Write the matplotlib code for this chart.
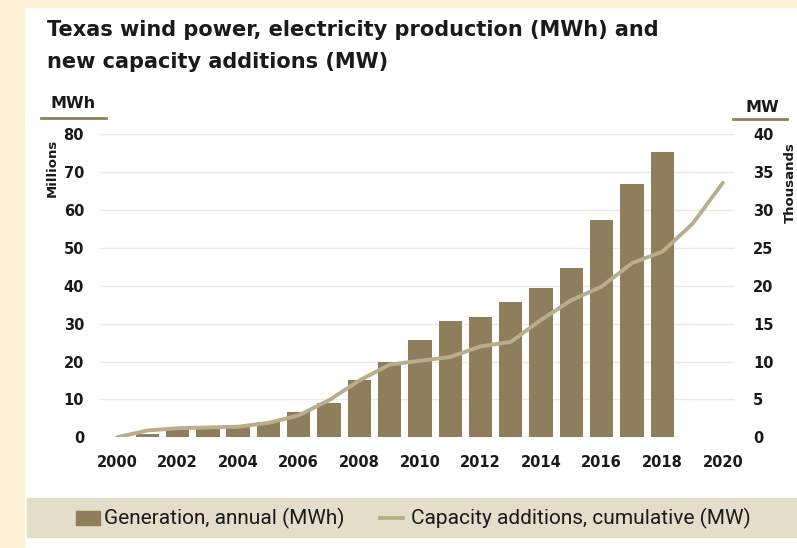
import matplotlib
matplotlib.use("Agg")
import matplotlib.pyplot as plt
from matplotlib.patches import Rectangle
from matplotlib.lines import Line2D

years = list(range(2000, 2021))
gen_years = list(range(2001, 2019))
generation = [1.0, 2.6, 2.5, 3.0, 4.0, 6.6, 9.0, 15.0, 20.0, 25.7, 30.6, 31.7, 35.7, 39.5, 44.8, 57.5, 66.8, 75.3]
capacity = [0.0, 0.9, 1.2, 1.3, 1.4, 1.9, 2.9, 4.9, 7.5, 9.6, 10.1, 10.6, 12.0, 12.6, 15.5, 18.1, 19.9, 23.0, 24.5, 28.2, 33.6]
left_ticks = [0, 10, 20, 30, 40, 50, 60, 70, 80]
right_ticks = [0, 5, 10, 15, 20, 25, 30, 35, 40]
x_ticks = list(range(2000, 2021, 2))

BAR = "#8E7E5B"
LINE = "#B9AE8C"
CREAM = "#FFF1D6"
BAND = "#E4DDCA"
TXT = "#1a1a1a"
FONT = ["DejaVu Sans"]
NARROW = ["Roboto", "DejaVu Sans"]

fig = plt.figure(figsize=(7.97, 5.48), dpi=100)
fig.patch.set_facecolor("white")
# cream frame
fig.patches.append(Rectangle((0, 0), 24/797, 1, transform=fig.transFigure, color=CREAM, zorder=0))
fig.patches.append(Rectangle((0, 1-7/548), 1, 7/548, transform=fig.transFigure, color=CREAM, zorder=0))
# legend band
fig.patches.append(Rectangle((27/797, 1-537/548), 1-27/797, 39/548, transform=fig.transFigure, color=BAND, zorder=0))

ax = fig.add_axes([100/797, 1-437.3/548, 635/797, 303/548])
ax2 = ax.twinx()
ax.set_zorder(1)
ax2.set_zorder(2)
ax.patch.set_visible(False)

ax.bar(gen_years, generation, width=0.77, color=BAR, zorder=2)
ax2.plot(years, capacity, color=LINE, lw=2.8, zorder=3, solid_capstyle="round", solid_joinstyle="round")

ax.set_xlim(1999.44, 2020.4)
ax.set_ylim(0, 80)
ax2.set_ylim(0, 40)
ax.set_xticks(x_ticks)
ax.set_yticks(left_ticks)
ax2.set_yticks(right_ticks)
ax.grid(axis="y", color="#EEEAE0", lw=1, zorder=0)
for a in (ax, ax2):
    for s in a.spines.values():
        s.set_visible(False)
ax.tick_params(axis="both", length=0, labelsize=10.5, colors=TXT)
ax.tick_params(axis="y", pad=11.5)
ax.tick_params(axis="x", pad=13)
ax2.tick_params(axis="y", length=0, labelsize=10.5, colors=TXT, pad=13)
for lab in ax.get_xticklabels() + ax.get_yticklabels() + ax2.get_yticklabels():
    lab.set_fontweight("bold")
    lab.set_family(FONT)

# title
fig.text(47/797, 1-30/548, "Texas wind power, electricity production (MWh) and", fontsize=15,
         fontweight="bold", family=FONT, color=TXT, va="center", ha="left")
fig.text(47/797, 1-62/548, "new capacity additions (MW)", fontsize=15,
         fontweight="bold", family=FONT, color=TXT, va="center", ha="left")

# axis unit labels
fig.text(73/797, 1-104/548, "MWh", fontsize=11.5, fontweight="bold", family=FONT, color=TXT, ha="center", va="center")
fig.lines.append(Line2D([41/797, 106/797], [1-118/548, 1-118/548], transform=fig.transFigure, color="#8E7E5B", lw=2))
fig.text(52/797, 1-168/548, "Millions", fontsize=9.5, fontweight="bold", family=FONT, color=TXT,
         rotation=90, ha="center", va="center")
fig.text(762/797, 1-107/548, "MW", fontsize=11.5, fontweight="bold", family=FONT, color=TXT, ha="center", va="center")
fig.lines.append(Line2D([733/797, 787/797], [1-119/548, 1-119/548], transform=fig.transFigure, color="#8E7E5B", lw=2))
fig.text(790/797, 1-183/548, "Thousands", fontsize=9.5, fontweight="bold", family=FONT, color=TXT,
         rotation=90, ha="center", va="center")

# legend
ly = 1-518/548
fig.patches.append(Rectangle((76/797, ly-7/548), 24/797, 14/548, transform=fig.transFigure, color=BAR))
fig.text(104/797, ly, "Generation, annual (MWh)", fontsize=15, family=NARROW, color=TXT, ha="left", va="center")
fig.lines.append(Line2D([380/797, 403/797], [ly, ly], transform=fig.transFigure, color=LINE, lw=2.8))
fig.text(411/797, ly, "Capacity additions, cumulative (MW)", fontsize=15, family=NARROW, color=TXT, ha="left", va="center")

fig.savefig("out.png", dpi=100, facecolor="white")
